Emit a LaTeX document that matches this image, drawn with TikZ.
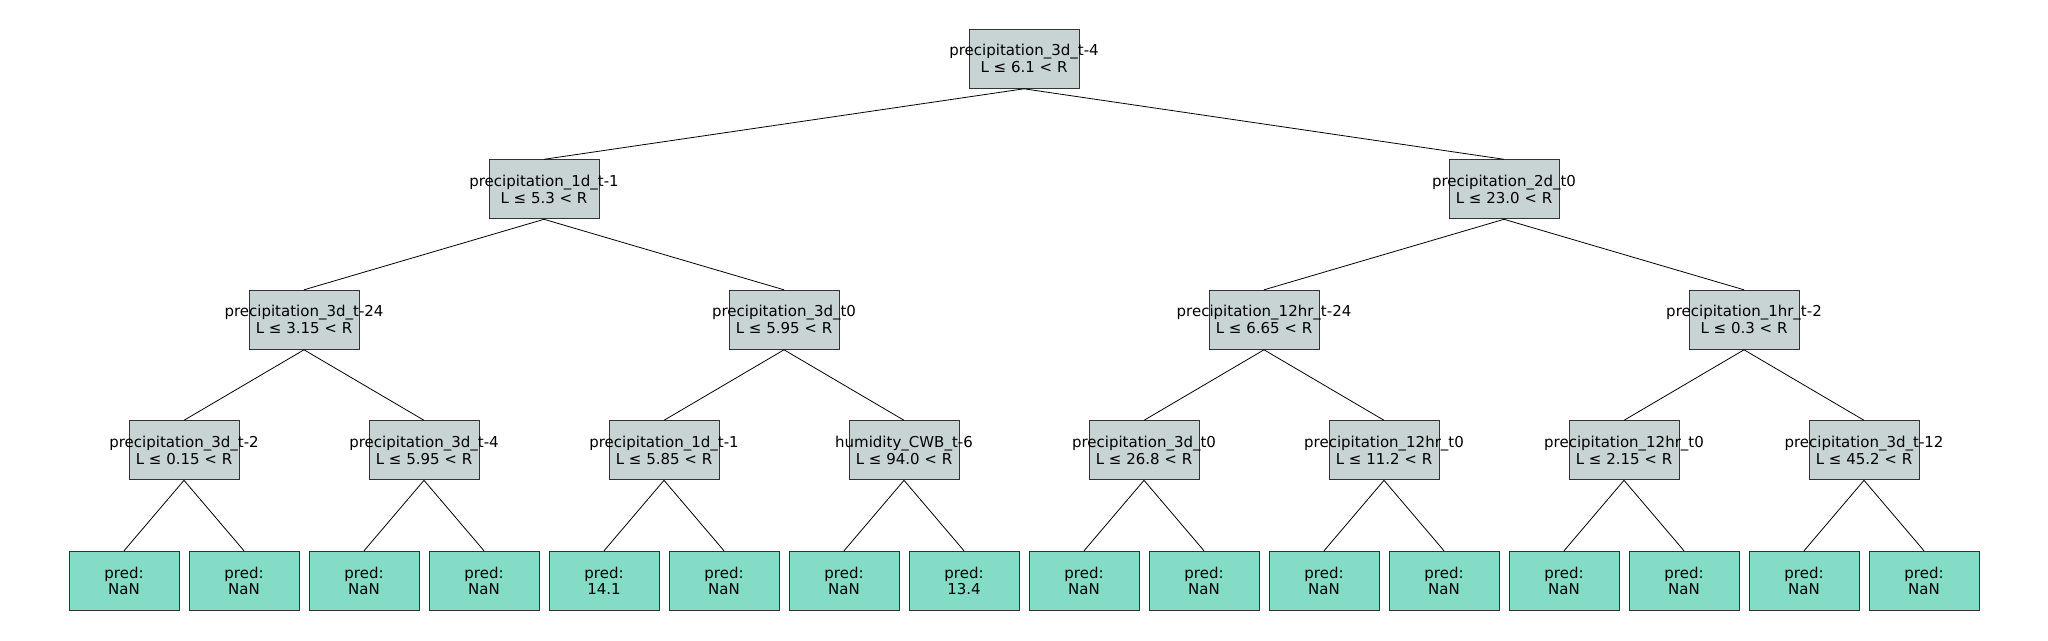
\documentclass[tikz,border=0pt]{standalone}
\usepackage{fontspec}
\setmainfont{DejaVu Sans}
\definecolor{splitfill}{HTML}{C8D4D4}
\definecolor{leaffill}{HTML}{84DCC6}
\definecolor{boxedge}{HTML}{333333}
\begin{document}
\begin{tikzpicture}[x=1pt,y=-1pt,
  splitbox/.style={draw=boxedge,line width=1pt,fill=splitfill,minimum width=110pt,minimum height=59pt,inner sep=0pt},
  leafbox/.style={draw=boxedge,line width=1pt,fill=leaffill,minimum width=110pt,minimum height=59pt,inner sep=0pt},
  txt/.style={align=center,inner sep=0pt,font=\fontsize{15}{16.8}\selectfont},
  edge/.style={draw=black,line width=0.8pt}]
\useasboundingbox (0,0) rectangle (2048,640);
% split nodes
\newcommand{\splitnode}[4]{%
  \node[splitbox] (#1) at (#2,#3) {};
  \node[txt] at (#1) {#4};}
\splitnode{r}{1024}{58.8}{precipitation\_3d\_t-4\\L ≤ 6.1 < R}
\splitnode{a}{544}{189.3}{precipitation\_1d\_t-1\\L ≤ 5.3 < R}
\splitnode{b}{1504}{189.3}{precipitation\_2d\_t0\\L ≤ 23.0 < R}
\splitnode{aa}{304}{319.8}{precipitation\_3d\_t-24\\L ≤ 3.15 < R}
\splitnode{ab}{784}{319.8}{precipitation\_3d\_t0\\L ≤ 5.95 < R}
\splitnode{ba}{1264}{319.8}{precipitation\_12hr\_t-24\\L ≤ 6.65 < R}
\splitnode{bb}{1744}{319.8}{precipitation\_1hr\_t-2\\L ≤ 0.3 < R}
\splitnode{aaa}{184}{450.3}{precipitation\_3d\_t-2\\L ≤ 0.15 < R}
\splitnode{aab}{424}{450.3}{precipitation\_3d\_t-4\\L ≤ 5.95 < R}
\splitnode{aba}{664}{450.3}{precipitation\_1d\_t-1\\L ≤ 5.85 < R}
\splitnode{abb}{904}{450.3}{humidity\_CWB\_t-6\\L ≤ 94.0 < R}
\splitnode{baa}{1144}{450.3}{precipitation\_3d\_t0\\L ≤ 26.8 < R}
\splitnode{bab}{1384}{450.3}{precipitation\_12hr\_t0\\L ≤ 11.2 < R}
\splitnode{bba}{1624}{450.3}{precipitation\_12hr\_t0\\L ≤ 2.15 < R}
\splitnode{bbb}{1864}{450.3}{precipitation\_3d\_t-12\\L ≤ 45.2 < R}
% leaves
\foreach \v [count=\i from 0] in {NaN,NaN,NaN,NaN,14.1,NaN,NaN,13.4,NaN,NaN,NaN,NaN,NaN,NaN,NaN,NaN}{
  \node[leafbox] (l\i) at ({124+120*\i},580.8) {};
  \node[txt] at (l\i) {pred:\\\v};
}
% edges
\foreach \p/\c in {r/a,r/b,a/aa,a/ab,b/ba,b/bb,aa/aaa,aa/aab,ab/aba,ab/abb,ba/baa,ba/bab,bb/bba,bb/bbb}{
  \draw[edge] (\p.south) -- (\c.north);
}
\foreach \p [count=\i from 0] in {aaa,aab,aba,abb,baa,bab,bba,bbb}{
  \pgfmathtruncatemacro{\lft}{2*\i}
  \pgfmathtruncatemacro{\rgt}{2*\i+1}
  \draw[edge] (\p.south) -- (l\lft.north);
  \draw[edge] (\p.south) -- (l\rgt.north);
}
\end{tikzpicture}
\end{document}
